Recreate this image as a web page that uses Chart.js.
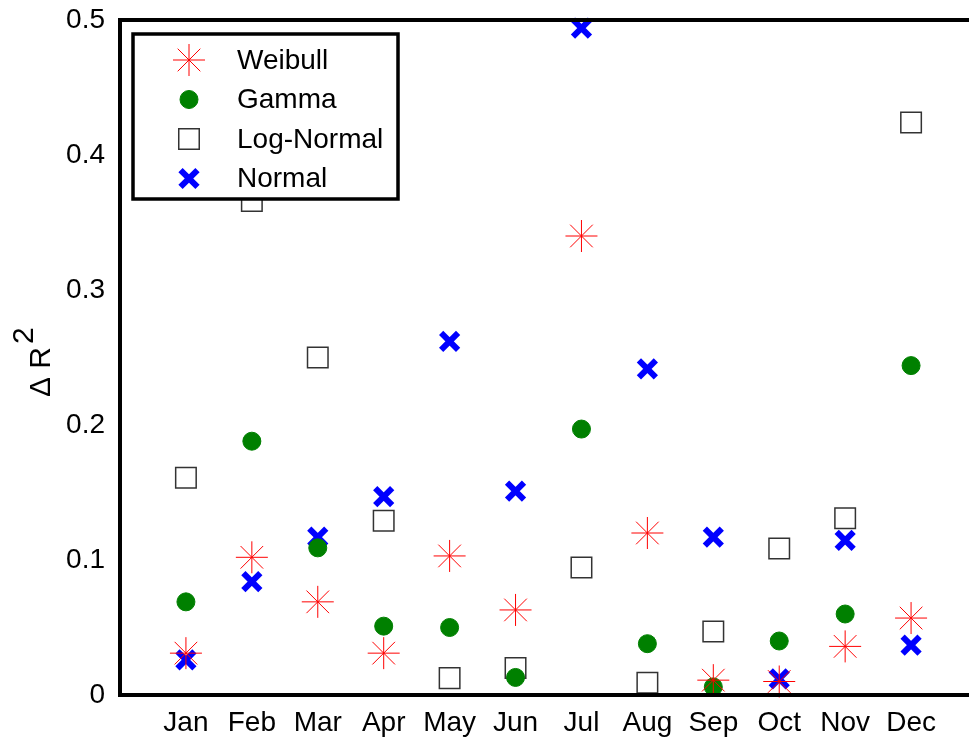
<!DOCTYPE html>
<html>
<head>
<meta charset="utf-8">
<script src="https://cdn.jsdelivr.net/npm/chart.js@4.4.1/dist/chart.umd.min.js"></script>
<style>
  html, body { margin: 0; padding: 0; background: #fff; overflow: hidden; }
  #wrap { width: 980px; height: 737px; }
</style>
</head>
<body>
<div id="wrap"><canvas id="chart" width="980" height="737"></canvas></div>
<script>
const months = ['Jan', 'Feb', 'Mar', 'Apr', 'May', 'Jun', 'Jul', 'Aug', 'Sep', 'Oct', 'Nov', 'Dec'];
const weibull = [0.031, 0.102, 0.069, 0.031, 0.103, 0.063, 0.340, 0.120, 0.011, 0.010, 0.036, 0.057];
const gamma = [0.069, 0.188, 0.109, 0.051, 0.050, 0.013, 0.197, 0.038, 0.006, 0.040, 0.060, 0.244];
const logNormal = [0.161, 0.366, 0.250, 0.129, 0.0125, 0.020, 0.0945, 0.009, 0.047, 0.1085, 0.131, 0.424];
const normal = [0.026, 0.084, 0.117, 0.147, 0.262, 0.151, 0.494, 0.2415, 0.117, 0.012, 0.1145, 0.037];
const yTicks = [0, 0.1, 0.2, 0.3, 0.4, 0.5];

const font = "'Liberation Sans', Arial, sans-serif";
const toPoints = vals => vals.map((v, i) => ({ x: i + 1, y: v }));

const series = [
    { label: 'Weibull', data: weibull, pointStyle: 'star', radius: 16, borderColor: '#ff0000', backgroundColor: '#ff0000', borderWidth: 1 },
    { label: 'Gamma', data: gamma, pointStyle: 'circle', radius: 9, borderColor: '#008000', backgroundColor: '#008000', borderWidth: 1 },
    { label: 'Log-Normal', data: logNormal, pointStyle: 'rect', radius: 14.5, borderColor: '#333333', backgroundColor: 'rgba(0,0,0,0)', borderWidth: 1.5 },
    { label: 'Normal', data: normal, pointStyle: 'crossRot', radius: 12, borderColor: '#0000ff', backgroundColor: '#0000ff', borderWidth: 6 }
];

// frame around the plot area (matlab style box)
const framePlugin = {
    id: 'frame',
    afterDraw(chart) {
        const { ctx, chartArea: a } = chart;
        ctx.save();
        ctx.strokeStyle = '#000';
        ctx.lineWidth = 4;
        ctx.strokeRect(a.left, a.top, a.right - a.left, a.bottom - a.top);
        ctx.restore();
    }
};

// y title with raised 2
const yTitlePlugin = {
    id: 'yTitle',
    afterDraw(chart) {
        const ctx = chart.ctx;
        ctx.save();
        ctx.translate(50, 397);
        ctx.rotate(-Math.PI / 2);
        ctx.fillStyle = '#000';
        ctx.font = '30px ' + font;
        ctx.textBaseline = 'alphabetic';
        ctx.fillText('Δ R', 0, 0);
        const w = ctx.measureText('Δ R').width;
        ctx.fillText('2', w + 3, -17);
        ctx.restore();
    }
};

// boxed legend in top left corner
const legendPlugin = {
    id: 'boxLegend',
    afterDraw(chart) {
        const ctx = chart.ctx;
        const x0 = 133, y0 = 34, w = 265, h = 165;
        ctx.save();
        ctx.fillStyle = '#fff';
        ctx.fillRect(x0, y0, w, h);
        ctx.strokeStyle = '#000';
        ctx.lineWidth = 3.5;
        ctx.strokeRect(x0, y0, w, h);
        ctx.font = '28px ' + font;
        ctx.textBaseline = 'middle';
        series.forEach((s, i) => {
            const y = 60 + i * 39.5;
            ctx.fillStyle = s.backgroundColor;
            ctx.strokeStyle = s.borderColor;
            ctx.lineWidth = s.borderWidth;
            Chart.helpers.drawPoint(ctx, { pointStyle: s.pointStyle, radius: s.radius, rotation: 0, borderWidth: s.borderWidth }, 189, y);
            ctx.fillStyle = '#000';
            ctx.fillText(s.label, 237, y + 1);
        });
        ctx.restore();
    }
};

new Chart(document.getElementById('chart').getContext('2d'), {
    type: 'scatter',
    data: {
        datasets: series.map(s => ({
            label: s.label,
            data: toPoints(s.data),
            pointStyle: s.pointStyle,
            pointRadius: s.radius,
            pointHoverRadius: s.radius,
            pointBorderColor: s.borderColor,
            pointBackgroundColor: s.backgroundColor,
            pointBorderWidth: s.borderWidth,
            showLine: false,
            clip: false
        }))
    },
    options: {
        responsive: false,
        animation: false,
        layout: { autoPadding: false, padding: { top: 20, right: 3, left: 0, bottom: 0 } },
        plugins: { legend: { display: false }, tooltip: { enabled: false } },
        scales: {
            x: {
                type: 'linear',
                min: 0,
                max: 13,
                grid: { display: false },
                border: { display: false },
                afterFit: s => { s.height = 42; s.paddingLeft = 0; s.paddingRight = 0; },
                afterBuildTicks: s => { s.ticks = months.map((m, i) => ({ value: i + 1 })); },
                ticks: {
                    autoSkip: false,
                    maxRotation: 0,
                    padding: 3,
                    color: '#000',
                    font: { family: font, size: 28 },
                    callback: v => months[v - 1] || ''
                }
            },
            y: {
                min: 0,
                max: 0.5,
                grid: { display: false },
                border: { display: false },
                afterFit: s => { s.width = 120; s.paddingTop = 0; s.paddingBottom = 0; },
                afterBuildTicks: s => { s.ticks = yTicks.map(v => ({ value: v })); },
                ticks: {
                    padding: 7,
                    color: '#000',
                    font: { family: font, size: 28 },
                    callback: v => String(v)
                }
            }
        }
    },
    plugins: [framePlugin, yTitlePlugin, legendPlugin]
});
</script>
</body>
</html>
